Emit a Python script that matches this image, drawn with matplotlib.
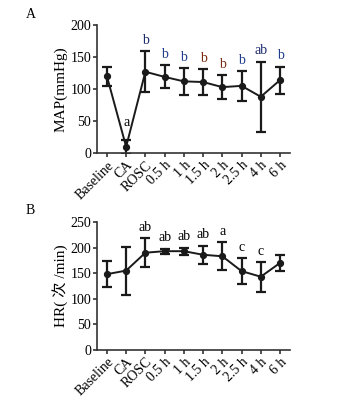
import matplotlib.pyplot as plt
import numpy as np

plt.rcParams['font.family'] = ['Liberation Serif', 'Noto Sans CJK SC']

labels = ['Baseline', 'CA', 'ROSC', '0.5 h', '1 h', '1.5 h', '2 h', '2.5 h', '4 h', '6 h']

# MAP (mmHg)
map_mean = [120, 10, 127, 119, 112, 111, 103, 105, 88, 114]
map_sd = [15, 11, 32, 18, 21, 20, 19, 23, 55, 21]
map_sig = ['', 'a', 'b', 'b', 'b', 'b', 'b', 'b', 'ab', 'b']
map_sig_col = ['k', 'k', '#1b2a6b', '#1f3c8f', '#1f3c8f', '#7a2a10', '#7a2a10', '#1f3c8f', '#1b2a6b', '#1f3c8f']

# HR (次/min)
hr_mean = [148, 155, 190, 193, 193, 186, 183, 154, 143, 170]
hr_sd = [26, 47, 28, 5, 7, 18, 27, 26, 29, 16]
hr_sig = ['', '', 'ab', 'ab', 'ab', 'ab', 'a', 'c', 'c', '']

x = np.arange(len(labels))
axc = '#333333'

fig = plt.figure(figsize=(3.4, 4.03), dpi=100)
ax1 = fig.add_axes([0.285, 0.620, 0.568, 0.318])
ax2 = fig.add_axes([0.285, 0.132, 0.568, 0.317])


def panel(ax, mean, sd, sig, sigcol, ymax, step, ylabel):
    ax.errorbar(x, mean, yerr=sd, color='#1a1a1a', lw=1.4, marker='o', ms=4.2,
                capsize=3.5, capthick=1.6, elinewidth=1.6)
    for i, s in enumerate(sig):
        if s:
            off = 8 if s == 'a' and i == 1 else 3
            ax.annotate(s, (x[i], mean[i] + sd[i]), xytext=(0, off),
                        textcoords='offset points', ha='center', va='bottom',
                        fontsize=10, color=sigcol[i])
    ax.set_xlim(-0.52, 9.52)
    ax.set_ylim(0, ymax)
    ax.set_yticks(np.arange(0, ymax + 1, step))
    ax.set_xticks(x)
    ax.set_xticklabels(labels, rotation=45, ha='right', rotation_mode='anchor')
    for sp in ['top', 'right']:
        ax.spines[sp].set_visible(False)
    for sp in ['left', 'bottom']:
        ax.spines[sp].set_color(axc)
        ax.spines[sp].set_linewidth(1.2)
    ax.tick_params(colors=axc, labelcolor='k', labelsize=10, length=3, width=1.2, pad=1)
    ax.set_ylabel(ylabel, fontsize=11, labelpad=2)


panel(ax1, map_mean, map_sd, map_sig, map_sig_col, 200, 50, 'MAP(mmHg)')
panel(ax2, hr_mean, hr_sd, hr_sig, ['k'] * 10, 250, 50, 'HR( 次 /min)')

fig.text(0.075, 0.965, 'A', fontsize=10, ha='left', va='center')
fig.text(0.075, 0.478, 'B', fontsize=10, ha='left', va='center')

fig.savefig('out.png', dpi=100)
